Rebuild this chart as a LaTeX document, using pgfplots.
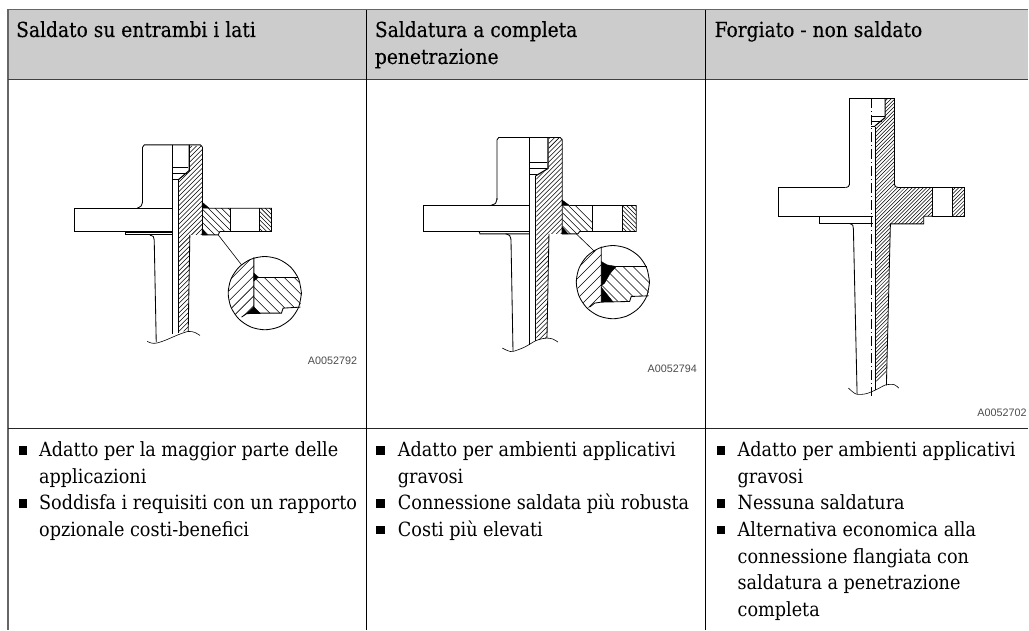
\documentclass[border=0pt]{standalone}
\usepackage{fontspec}
\usepackage{pgfplots}
\pgfplotsset{compat=1.18}
\setmainfont{DejaVu Serif Condensed}
\newfontfamily\lab{Liberation Sans}
\newfontfamily\hdrf[FakeBold=0.2]{DejaVu Serif Condensed}
\newcommand\hdr{\hdrf\fontsize{20.75}{24}\selectfont}
\newcommand\bdy{\fontsize{19.6}{24}\selectfont}
\newcommand\lin[2][]{\addplot[black,line width=.85pt,no marks,forget plot,#1] coordinates {#2};}
\newcommand\crv[2][]{\addplot[smooth,black,line width=.85pt,no marks,forget plot,#1] coordinates {#2};}
\newcommand\pg[2]{\addplot[no marks,forget plot,#1] coordinates {#2} -- cycle;}
% hatching: #1 lw, #2 first, #3 step, #4 last, #5 clip path
\newcommand\hne[5][.55pt]{\begin{scope}\clip #5;
 \pgfmathsetmacro\cb{#2+#3}
 \foreach \c in {#2,\cb,...,#4}{\edef\tmp{\noexpand\addplot[black,line width=#1,no marks,forget plot] coordinates {(\c,0)(0,\c)};}\tmp}
 \end{scope}}
\newcommand\hnw[5][.55pt]{\begin{scope}\clip #5;
 \pgfmathsetmacro\cb{#2+#3}
 \foreach \c in {#2,\cb,...,#4}{\pgfmathsetmacro\d{\c+1000}\edef\tmp{\noexpand\addplot[black,line width=#1,no marks,forget plot] coordinates {(\c,0)(\d,1000)};}\tmp}
 \end{scope}}
\pgfplotsset{
  base/.style={hide axis,scale only axis,clip=false,y dir=reverse,anchor=north west},
}
\begin{document}
\begin{tikzpicture}
% ---------- table frame and text
\begin{axis}[base,at={(0pt,0pt)},width=1029pt,height=630pt,xmin=0,xmax=1029,ymin=0,ymax=630]
\pg{fill=white,draw=none}{(0,0)(1029,0)(1029,630)(0,630)}
\pg{fill=black!20,draw=none}{(8,10)(1029,10)(1029,79)(8,79)}
\lin[color=black!60,line width=1.4pt]{(7.3,9.5)(1029,9.5)}
\lin[color=black!60,line width=1.4pt]{(8,9.5)(8,630)}
\lin[color=black!75,line width=1.1pt]{(8,79.5)(1029,79.5)}
\lin[color=black!85,line width=.9pt]{(8,428.8)(1029,428.8)}
\lin[line width=.8pt]{(366.5,10)(366.5,630)}
\lin[line width=.8pt]{(706,10)(706,630)}
\addplot[only marks,mark=square*,mark size=3.6pt,black,forget plot] coordinates {(22.5,450.5)(22.5,503.5)(380.5,450.5)(380.5,503.5)(380.5,530)(721,450.5)(721,503.5)(721,530)};
\node[anchor=base west,inner sep=0pt,font=\hdr] at (axis cs:16,37) {Saldato su entrambi i lati};
\node[anchor=base west,inner sep=0pt,font=\hdr] at (axis cs:375,37) {Saldatura a completa};
\node[anchor=base west,inner sep=0pt,font=\hdr] at (axis cs:375,64) {penetrazione};
\node[anchor=base west,inner sep=0pt,font=\hdr] at (axis cs:715,37) {Forgiato - non saldato};
\foreach \x/\y/\t in {39/457/Adatto per la maggior parte delle,39/483.7/applicazioni,39/510.3/Soddisfa i requisiti con un rapporto,39/537/opzionale costi-benefici,
398/457/Adatto per ambienti applicativi,398/483.7/gravosi,398/510.3/Connessione saldata più robusta,398/537/Costi più elevati,
738/457/Adatto per ambienti applicativi,738/483.7/gravosi,738/510.3/Nessuna saldatura,738/537/Alternativa economica alla,738/563.7/connessione flangiata con,738/590.3/saldatura a penetrazione,738/617/completa}
{\edef\tmp{\noexpand\node[anchor=base west,inner sep=0pt,font=\noexpand\bdy] at (axis cs:\x,\y) {\t};}\tmp}
\node[anchor=base east,inner sep=0pt,font=\lab\fontsize{10.8}{12}\selectfont,text=black!70] at (axis cs:357.5,365) {A0052792};
\node[anchor=base east,inner sep=0pt,font=\lab\fontsize{10.8}{12}\selectfont,text=black!70] at (axis cs:697.5,373) {A0052794};
\node[anchor=base east,inner sep=0pt,font=\lab\fontsize{10.8}{12}\selectfont,text=black!70] at (axis cs:1027.5,417) {A0052702};
\end{axis}
% ---------- drawing 1
\begin{axis}[base,at={(50pt,-70pt)},width=310pt,height=310pt,xmin=0,xmax=930,ymin=0,ymax=930]
\hne{640}{14}{1210}{(420,228) -- (458,228) -- (458,495) -- (420,495) -- (415,785) -- (385,785) -- (385,330) -- (418,302) -- cycle}
\hnw{-100}{20}{150}{(460,415) -- (543,415) -- (543,485) -- (510,485) -- (505,495) -- (460,495) -- cycle}
\hnw{140}{13}{260}{(628,415) -- (665,415) -- (665,485) -- (628,485) -- cycle}
\pg{fill=black}{(457,397)(457,415)(478,415)}
\pg{fill=black}{(457,476)(471,495)(457,495)}
\lin{(278,400)(278,232)(283,225)(452,225)(458,232)(458,400)}
\crv{(278,395)(274,408)(262,415)}
\lin{(368,415)(72,415)(72,485)(368,485)}
\lin{(478,415)(665,415)(665,485)(510,485)(505,495)(458,495)(458,400)}
\lin{(543,415)(543,485)} \lin{(628,415)(628,485)}
\lin{(368,225)(368,792)} \lin{(385,330)(385,790)}
\lin[line width=1.1pt]{(418,225)(418,302)(385,330)}
\lin{(368,293)(415,293)} \lin{(368,312)(412,312)} \lin{(368,330)(387,330)}
\lin[line width=1.1pt]{(228,487)(368,487)} \lin{(228,487)(228,495)(368,495)}
\crv{(300,496)(310,500)(313,512)}
\lin{(313,512)(319,817)}
\lin{(420,495)(415,785)}
\crv[line width=.6pt]{(292,815)(305,820)(320,820)(345,812)(385,795)(415,785)(435,788)(450,797)}
\lin[line width=.6pt]{(505,495)(575,585)}
\hne{1110}{30}{1360}{(612,566) -- (612,730) -- (590,732) -- (575,742) -- (567,748) -- (543,712) -- (535,670) -- (543,628) -- (567,592) -- (603,568) -- cycle}
\hnw{-130}{30}{130}{(612,622) -- (744,622) -- (755,670) -- (752,712) -- (700,715) -- (695,730) -- (612,730) -- cycle}
\crv{(755,670)(746.6,712.1)(722.8,747.8)(687.1,771.6)(645,780)(602.9,771.6)(567.2,747.8)(543.4,712.1)(535,670)(543.4,627.9)(567.2,592.2)(602.9,568.4)(645,560)(687.1,568.4)(722.8,592.2)(746.6,627.9)(755,670)}
\lin{(612,563)(612,730)(590,732)(575,742)}
\lin{(612,622)(744,622)}
\lin{(612,730)(695,730)(700,715)(752,712)}
\pg{fill=black}{(612,610)(626,622)(612,634)}
\pg{fill=black}{(590,732)(612,712)(632,732)}
\end{axis}
% ---------- drawing 2
\begin{axis}[base,at={(400pt,-70pt)},width=310pt,height=310pt,xmin=0,xmax=930,ymin=0,ymax=930]
\hne{640}{14}{1260}{(448,205) -- (488,205) -- (488,492) -- (448,492) -- (442,805) -- (410,812) -- (410,320) -- (445,298) -- cycle}
\hnw{-140}{20}{130}{(490,407) -- (578,407) -- (578,485) -- (540,485) -- (535,492) -- (490,492) -- cycle}
\hnw{170}{13}{310}{(670,407) -- (710,407) -- (710,485) -- (670,485) -- cycle}
\pg{fill=black}{(487,390)(487,407)(510,407)}
\pg{fill=black}{(487,470)(505,492)(487,492)}
\lin{(292,390)(292,210)(297,203)(482,203)(488,210)(488,390)}
\crv{(292,385)(288,400)(272,407)}
\lin{(390,407)(70,407)(70,485)(390,485)}
\lin{(510,407)(710,407)(710,485)(540,485)(535,492)(488,492)(488,390)}
\lin{(578,407)(578,485)} \lin{(670,407)(670,485)}
\lin{(390,203)(390,825)} \lin{(408,318)(408,815)}
\lin[line width=1.1pt]{(445,203)(445,296)(408,318)}
\lin{(390,277)(443,277)} \lin{(390,296)(441,296)} \lin{(390,315)(412,315)}
\lin[line width=1.1pt]{(238,485)(390,485)} \lin{(238,485)(241,492)(390,492)}
\crv{(318,492)(330,497)(334,510)}
\lin{(334,510)(340,843)}
\lin{(448,492)(442,805)}
\crv[line width=.6pt]{(308,835)(325,843)(340,845)(375,832)(410,812)(440,805)(460,808)(475,817)}
\lin[line width=.6pt]{(530,492)(585,545)}
\hne{1070}{30}{1340}{(605,532) -- (605,697) -- (585,700) -- (570,712) -- (562,715) -- (538,679) -- (530,637) -- (538,595) -- (562,559) -- (598,535) -- cycle}
\hnw{-160}{30}{130}{(650,590) -- (742,590) -- (750,637) -- (747,678) -- (695,680) -- (690,695) -- (640,695) -- (605,650) -- (615,640) -- (632,610) -- cycle}
\crv{(750,637)(741.6,679.1)(717.8,714.8)(682.1,738.6)(640,747)(597.9,738.6)(562.2,714.8)(538.4,679.1)(530,637)(538.4,594.9)(562.2,559.2)(597.9,535.4)(640,527)(682.1,535.4)(717.8,559.2)(741.6,594.9)(750,637)}
\lin{(605,530)(605,697)(585,700)(570,712)}
\lin{(650,590)(742,590)}
\lin{(605,697)(690,695)(695,680)(747,678)}
\pg{fill=black}{(605,575)(622,585)(650,590)(632,610)(615,640)(605,648)}
\pg{fill=black}{(605,652)(640,696)(605,696)}
\end{axis}
% ---------- drawing 3
\begin{axis}[base,at={(740pt,-80pt)},width=289pt,height=350pt,xmin=0,xmax=867,ymin=0,ymax=1050]
\hne[.5pt]{490}{11}{1320}{(437,55) -- (465,55) -- (465,315) -- (472,323) -- (578,323) -- (578,409) -- (553,409) -- (553,432) -- (453,432) -- (441,885) -- (407,908) -- (407,140) -- (437,115) -- cycle}
\hne[.5pt]{960}{11}{1090}{(640,323) -- (675,323) -- (675,409) -- (640,409) -- cycle}
\lin{(330,315)(330,55)(465,55)(465,315)}
\crv{(330,312)(327,320)(318,323)}
\crv{(465,312)(468,320)(477,323)}
\lin{(318,323)(118,323)(118,409)(400,409)}
\lin{(477,323)(675,323)(675,409)(578,409)(578,323)}
\lin{(640,323)(640,409)}
\lin{(578,409)(553,409)(553,432)(453,432)(441,917)}
\lin[line width=1.1pt]{(437,55)(437,113)(407,138)}
\lin{(395,110)(437,110)} \lin{(395,125)(428,125)} \lin{(395,140)(407,140)}
\lin{(407,140)(407,930)}
\lin{(241,409)(241,432)(400,432)}
\crv{(332,432)(340,436)(342,450)}
\lin{(342,450)(353,942)}
\crv[line width=.6pt]{(327,925)(350,943)(380,942)(410,930)(440,915)(465,915)(478,925)}
\lin[line width=.6pt,dash pattern=on 10pt off 3pt on 1pt off 3pt]{(397,55)(397,950)}
\end{axis}
\end{tikzpicture}
\end{document}
